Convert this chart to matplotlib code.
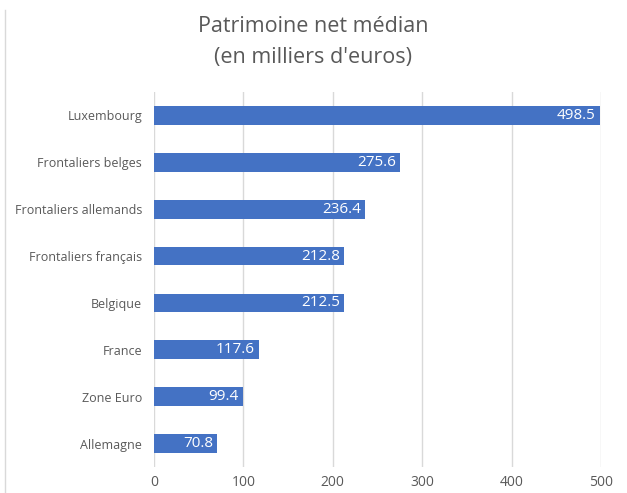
import matplotlib
matplotlib.use("Agg")
import matplotlib.pyplot as plt
from matplotlib.lines import Line2D

categories = ["Luxembourg", "Frontaliers belges", "Frontaliers allemands",
              "Frontaliers français", "Belgique", "France", "Zone Euro", "Allemagne"]
values = [498.5, 275.6, 236.4, 212.8, 212.5, 117.6, 99.4, 70.8]
xticks = [0, 100, 200, 300, 400, 500]

plt.rcParams['font.family'] = ['Open Sans', 'DejaVu Sans']

fig = plt.figure(figsize=(6.27, 4.93), dpi=100)
ax = fig.add_axes([154/627, 1-467/493, (601-154)/627, (467-92)/493])

ypos = list(range(len(categories)))
bars = ax.barh(ypos, values, height=0.4, color="#4472C4", zorder=3)
ax.set_ylim(len(categories)-0.5, -0.5)
ax.set_xlim(0, 500)
ax.set_yticks(ypos)
ax.set_yticklabels(categories, fontsize=9, color="#595959")
ax.set_xticks(xticks)
ax.set_xticklabels([str(t) for t in xticks], fontsize=10, color="#595959")
ax.tick_params(axis='both', length=0)
ax.tick_params(axis='y', pad=8.5)
ax.tick_params(axis='x', pad=6)
ax.grid(axis='x', color="#D9D9D9", linewidth=1, zorder=0)
for s in ax.spines.values():
    s.set_visible(False)

for b, v in zip(bars, values):
    ax.annotate(f"{v:.1f}", xy=(v, b.get_y()+b.get_height()/2), xytext=(-3, 0),
                textcoords="offset points", ha="right", va="center",
                color="white", fontsize=11, zorder=4)

fig.text(0.5, 1-27/493, "Patrimoine net médian", ha="center", va="center",
         fontsize=15.5, color="#595959")
fig.text(0.5, 1-58/493, "(en milliers d'euros)", ha="center", va="center",
         fontsize=15.5, color="#595959")

fig.add_artist(Line2D([5/627, 5/627], [0, 1-10/493], transform=fig.transFigure,
                      color="#D9D9D9", linewidth=1))

fig.savefig("out.png", dpi=100)
